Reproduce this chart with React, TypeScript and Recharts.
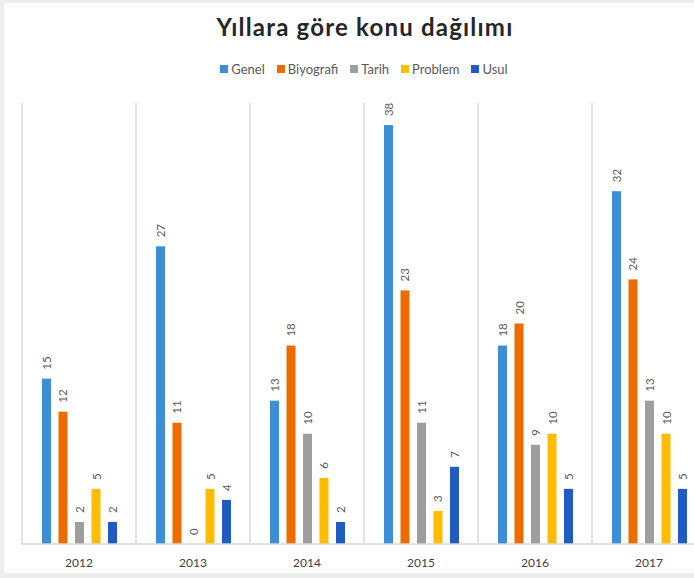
import React from "react";
import { BarChart, Bar, XAxis, YAxis, CartesianGrid } from "recharts";

const years = ["2012", "2013", "2014", "2015", "2016", "2017"];
const genel = [15, 27, 13, 38, 18, 32];
const biyografi = [12, 11, 18, 23, 20, 24];
const tarih = [2, 0, 10, 11, 9, 13];
const problem = [5, 5, 6, 3, 10, 10];
const usul = [2, 4, 2, 7, 5, 5];

const seriesNames = ["Genel", "Biyografi", "Tarih", "Problem", "Usul"];
const seriesColors = ["#3c8fd6", "#ec6c00", "#9e9e9e", "#ffbc00", "#1f5bc0"];

const data = years.map((y, i) => ({
  year: y,
  Genel: genel[i],
  Biyografi: biyografi[i],
  Tarih: tarih[i],
  Problem: problem[i],
  Usul: usul[i],
}));

const FONT = "Lato, 'Open Sans', sans-serif";

const makeShape = (key: string) => (props: any) => {
  const { x, y, width, height, fill, payload } = props;
  const value = payload ? payload[key] : props.value;
  const cx = x + width / 2;
  const cy = y - 9;
  return (
    <g>
      {height > 0 && <rect x={x} y={y} width={width} height={height} fill={fill} />}
      <text
        x={cx}
        y={cy}
        transform={`rotate(-90 ${cx} ${cy})`}
        textAnchor="start"
        dominantBaseline="central"
        fontSize={11.5}
        fontFamily={FONT}
        fill="#595959"
      >
        {value}
      </text>
    </g>
  );
};

export default function App() {
  return (
    <div
      style={{
        position: "absolute",
        left: 0,
        top: 0,
        width: 694,
        height: 578,
        overflow: "hidden",
        background: "#ededed",
      }}
    >
      <div
        style={{
          position: "absolute",
          left: 4,
          top: 3,
          width: 730,
          height: 570,
          background: "#ffffff",
        }}
      />
      <div
        style={{
          position: "absolute",
          left: 22,
          top: 61,
          width: 684,
          display: "flex",
          justifyContent: "center",
          alignItems: "center",
          fontFamily: FONT,
          fontSize: 13,
          color: "#595959",
        }}
      >
        {seriesNames.map((n, i) => (
          <div
            key={n}
            style={{ display: "flex", alignItems: "center", marginRight: i < seriesNames.length - 1 ? 12 : 0 }}
          >
            <span style={{ display: "inline-block", width: 8, height: 8, background: seriesColors[i], marginRight: 3 }} />
            <span>{n}</span>
          </div>
        ))}
      </div>
      <div style={{ position: "absolute", left: 0, top: 0 }}>
        <BarChart
          width={720}
          height={578}
          data={data}
          margin={{ top: 103, right: 14, bottom: 4, left: 22 }}
          barSize={9}
          barGap={7.5}
        >
          <text
            x={365}
            y={36}
            textAnchor="middle"
            fontFamily={FONT}
            fontWeight={700}
            fontSize={24}
            letterSpacing={1.2}
            fill="#262626"
          >
            Yıllara göre konu dağılımı
          </text>
          <CartesianGrid
            horizontal={false}
            stroke="#d9d9d9"
            strokeWidth={1.5}
            verticalCoordinatesGenerator={({ offset }: any) =>
              years.map((_, i) => offset.left + (i * offset.width) / years.length)
            }
          />
          <XAxis
            dataKey="year"
            height={30}
            tickLine={false}
            axisLine={{ stroke: "#d9d9d9", strokeWidth: 1.5 }}
            tickMargin={8}
            tick={{ fontSize: 12, fontFamily: FONT, fill: "#404040" }}
          />
          <YAxis hide domain={[0, 40]} />
          {seriesNames.map((n, i) => (
            <Bar key={n} dataKey={n} fill={seriesColors[i]} isAnimationActive={false} shape={makeShape(n)} />
          ))}
        </BarChart>
      </div>
    </div>
  );
}
